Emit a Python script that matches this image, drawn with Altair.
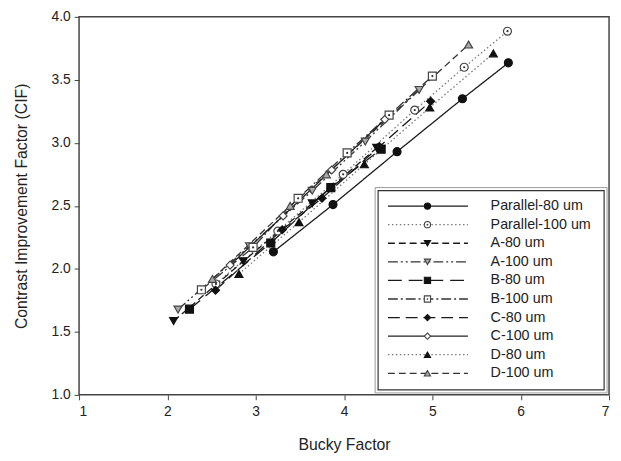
import altair as alt
import pandas as pd

series_names = ["Parallel-80 um", "Parallel-100 um", "A-80 um", "A-100 um", "B-80 um",
                "B-100 um", "C-80 um", "C-100 um", "D-80 um", "D-100 um"]

par80_x = [3.20, 3.875, 4.60, 5.34, 5.86]
par80_y = [2.135, 2.51, 2.93, 3.35, 3.635]
par100_x = [2.55, 3.25, 3.99, 4.80, 5.36, 5.85]
par100_y = [1.88, 2.30, 2.75, 3.26, 3.60, 3.886]
a80_x = [2.07, 2.86, 3.64, 4.37]
a80_y = [1.586, 2.06, 2.52, 2.96]
a100_x = [2.12, 2.93, 3.64, 4.24, 4.85]
a100_y = [1.677, 2.18, 2.62, 3.01, 3.42]
b80_x = [2.25, 3.17, 3.85, 4.42]
b80_y = [1.68, 2.205, 2.645, 2.95]
b100_x = [2.385, 2.97, 3.48, 4.035, 4.51, 5.00]
b100_y = [1.834, 2.17, 2.56, 2.92, 3.22, 3.53]
c80_x = [2.545, 3.30, 3.75, 4.40, 4.98]
c80_y = [1.83, 2.31, 2.56, 2.97, 3.33]
c100_x = [2.71, 3.31, 3.86, 4.46]
c100_y = [2.03, 2.42, 2.785, 3.185]
d80_x = [2.81, 3.49, 4.23, 4.97, 5.69]
d80_y = [1.96, 2.37, 2.83, 3.28, 3.71]
d100_x = [2.51, 3.39, 3.80, 5.41]
d100_y = [1.92, 2.50, 2.75, 3.78]

xs = [par80_x, par100_x, a80_x, a100_x, b80_x, b100_x, c80_x, c100_x, d80_x, d100_x]
ys = [par80_y, par100_y, a80_y, a100_y, b80_y, b100_y, c80_y, c100_y, d80_y, d100_y]

rows = []
for name, sx, sy in zip(series_names, xs, ys):
    for x, y in zip(sx, sy):
        rows.append({"series": name, "bucky": x, "cif": y})
df = pd.DataFrame(rows)

shapes = ["circle", "circle", "triangle-down", "triangle-down", "square", "square",
          "diamond", "diamond", "triangle-up", "triangle-up"]
fills = ["#111", "#fff", "#111", "#aaa", "#111", "#fff", "#111", "#fff", "#111", "#aaa"]
strokes = ["#111", "#444", "#111", "#444", "#111", "#444", "#111", "#444", "#111", "#444"]
line_colors = ["#1a1a1a", "#777", "#1a1a1a", "#333", "#1a1a1a", "#333", "#1a1a1a", "#222", "#777", "#333"]
dashes = [[1, 0], [1.5, 2.5], [7, 4], [10, 3, 2, 3, 2, 3], [14, 7], [10, 3, 2, 3],
          [12, 6], [1, 0], [1.5, 2.5], [7, 4]]
dotted_centers = ["Parallel-100 um", "B-100 um"]

dom = series_names
color_s = alt.Scale(domain=dom, range=line_colors)
dash_s = alt.Scale(domain=dom, range=dashes)
shape_s = alt.Scale(domain=dom, range=shapes)
fill_s = alt.Scale(domain=dom, range=fills)
stroke_s = alt.Scale(domain=dom, range=strokes)

xscale = alt.Scale(domain=[1, 7], nice=False)
yscale = alt.Scale(domain=[1, 4], nice=False)

X = alt.X("bucky:Q", scale=xscale, title="Bucky Factor",
          axis=alt.Axis(values=[1, 2, 3, 4, 5, 6, 7], format="d"))
Y = alt.Y("cif:Q", scale=yscale, title="Contrast Improvement Factor (CIF)",
          axis=alt.Axis(values=[1.0, 1.5, 2.0, 2.5, 3.0, 3.5, 4.0], format=".1f"))

lines = alt.Chart(df).mark_line(strokeWidth=1.3).encode(
    x=X, y=Y,
    color=alt.Color("series:N", scale=color_s, legend=None),
    strokeDash=alt.StrokeDash("series:N", scale=dash_s, legend=None),
    detail="series:N",
)
points = alt.Chart(df).mark_point(filled=False, size=65, strokeWidth=1.2, opacity=1).encode(
    x=X, y=Y,
    shape=alt.Shape("series:N", scale=shape_s, legend=None),
    fill=alt.Fill("series:N", scale=fill_s, legend=None),
    stroke=alt.Stroke("series:N", scale=stroke_s, legend=None),
)
centers = alt.Chart(df[df.series.isin(dotted_centers)]).mark_circle(size=5, color="#333", opacity=1).encode(
    x=X, y=Y)

# legend (positions derived from row index)
leg = pd.DataFrame({"series": series_names})
leg["row"] = range(len(series_names))
leg["ly"] = 1 + (397 - (206 + leg["row"] * 18.8)) / 127.5
leg_box = pd.DataFrame({"k": [0]})

box_outer = alt.Chart(leg_box).mark_rect(fill="#fff", stroke="#999", strokeWidth=1).encode(
    x=alt.value(300), x2=alt.value(535), y=alt.value(173), y2=alt.value(381))
box_inner = alt.Chart(leg_box).mark_rect(fill="#fff", stroke="#333", strokeWidth=1.2).encode(
    x=alt.value(303), x2=alt.value(532), y=alt.value(176), y2=alt.value(378))
leg_lines = alt.Chart(leg).mark_rule(strokeWidth=1.3).encode(
    x=alt.value(313), x2=alt.value(394),
    y=alt.Y("ly:Q", scale=yscale),
    color=alt.Color("series:N", scale=color_s, legend=None),
    strokeDash=alt.StrokeDash("series:N", scale=dash_s, legend=None),
)
leg_pts = alt.Chart(leg).mark_point(filled=False, size=40, strokeWidth=1.1, opacity=1).encode(
    x=alt.value(353),
    y=alt.Y("ly:Q", scale=yscale),
    shape=alt.Shape("series:N", scale=shape_s, legend=None),
    fill=alt.Fill("series:N", scale=fill_s, legend=None),
    stroke=alt.Stroke("series:N", scale=stroke_s, legend=None),
)
leg_centers = alt.Chart(leg[leg.series.isin(dotted_centers)]).mark_circle(size=3, color="#333", opacity=1).encode(
    x=alt.value(353), y=alt.Y("ly:Q", scale=yscale))
leg_text = alt.Chart(leg).mark_text(align="left", baseline="middle", fontSize=14.5,
                                    font="Liberation Sans", color="#222").encode(
    x=alt.value(417),
    y=alt.Y("ly:Q", scale=yscale),
    text="series:N",
)

chart = alt.layer(lines, points, centers, box_outer, box_inner, leg_lines, leg_pts, leg_centers, leg_text).properties(
    width=537, height=383,
    autosize=alt.AutoSizeParams(type="none"),
    padding={"left": 72, "top": 6, "right": 4, "bottom": 60},
).configure_view(stroke="#444", strokeWidth=1.5).configure_axis(
    grid=False, domain=False, tickColor="#444", tickSize=5, tickWidth=1,
    labelFont="Liberation Sans", labelFontSize=14, labelColor="#222",
    titleFont="Liberation Sans", titleFontSize=16, titleFontWeight="normal", titleColor="#222",
).configure_axisX(labelPadding=5, titlePadding=18).configure_axisY(labelPadding=4, titlePadding=22)

chart.save("out.html", embed_options={"renderer": "svg", "actions": False})
